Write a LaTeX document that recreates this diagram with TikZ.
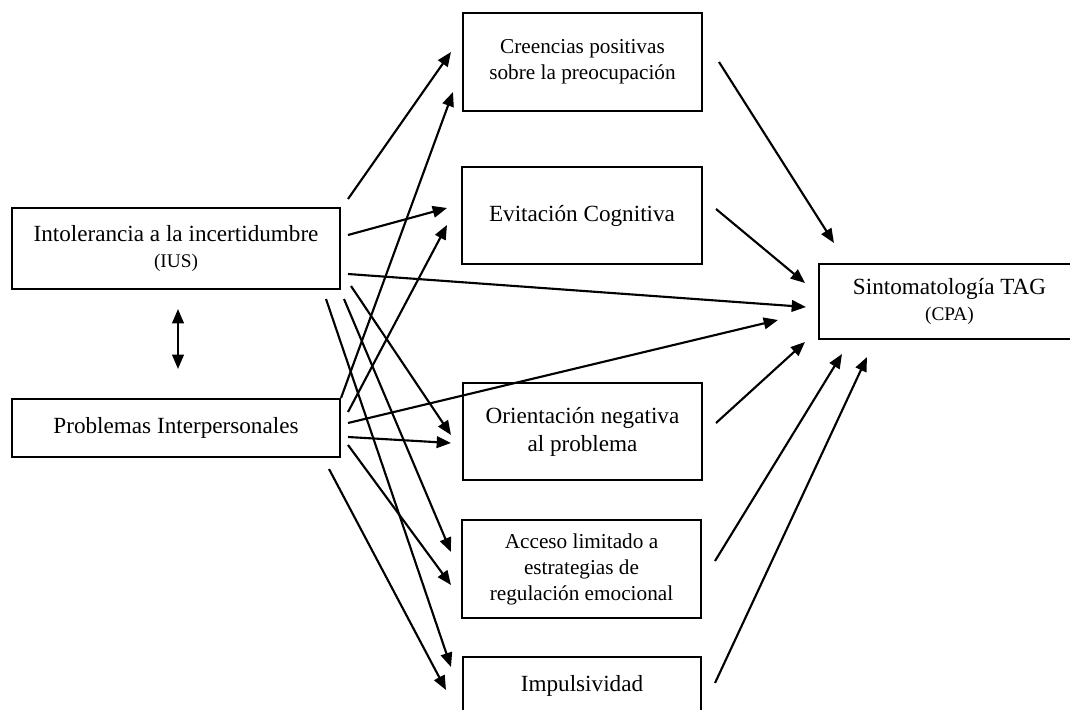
\documentclass[tikz,border=0pt]{standalone}
\usepackage{fontspec}
\setmainfont{Liberation Serif}
\usetikzlibrary{arrows.meta,calc}

\begin{document}
\begin{tikzpicture}[x=0.518pt,y=-0.518pt,
  box/.style={draw,line width=1.05pt,rectangle,align=center,inner sep=0pt,
    font=\fontsize{12}{14.5}\selectfont},
  smallbox/.style={box,font=\fontsize{11}{13.5}\selectfont},
  tip/.style={Triangle[length=7.4pt,width=6pt]},
  arr/.style={line width=1.1pt,-{Triangle[length=7.4pt,width=6pt]}},
  biarr/.style={line width=1.1pt,{Triangle[length=7.4pt,width=6pt]}-{Triangle[length=7.4pt,width=6pt]}}]

\useasboundingbox (0,0) rectangle (1070,710);
\clip (0,0) rectangle (1070,710);

% predictors
\node[box,minimum width=328*0.518pt,minimum height=81*0.518pt] (ius) at (176,248.5)
  {Intolerancia a la incertidumbre\\[-1pt]{\fontsize{10}{12}\selectfont (IUS)}};
\node[box,minimum width=328*0.518pt,minimum height=58*0.518pt] (pi) at (176,428)
  {Problemas Interpersonales};

% mediators
\node[smallbox,minimum width=239*0.518pt,minimum height=98*0.518pt] (cre) at (582.5,62)
  {Creencias positivas\\sobre la preocupación};
\node[box,minimum width=240*0.518pt,minimum height=97*0.518pt] (evi) at (582,215.5)
  {Evitación Cognitiva};
\node[box,minimum width=239*0.518pt,minimum height=97*0.518pt] (ori) at (582.5,431.5)
  {Orientación negativa\\al problema};
\node[smallbox,minimum width=239*0.518pt,minimum height=98*0.518pt] (acc) at (581.5,569)
  {Acceso limitado a\\estrategias de\\regulación emocional};
\node[box,minimum width=238*0.518pt,minimum height=58*0.518pt] (imp) at (582,686)
  {Impulsividad};

% outcome
\node[box,minimum width=261*0.518pt,minimum height=75*0.518pt] (tag) at (949.5,301.5)
  {Sintomatología TAG\\[-1pt]{\fontsize{10}{12}\selectfont (CPA)}};

% correlation between predictors
\draw[biarr] ($(ius.south)+(2,19)$) -- ($(pi.north)+(2,-29)$);

% paths from IUS
\draw[arr] ($(ius.north east)+(7,-8)$) -- ($(cre.west)+(-11,-10)$);
\draw[arr] ($(ius.east)+(7,-13.5)$) -- ($(evi.west)+(-14,-7.5)$);
\draw[arr] ($(ius.east)+(7,25.5)$) -- ($(tag.west)+(-12,5.5)$);
\draw[arr] ($(ius.south east)+(10,-4)$) -- ($(ori.west)+(-11,3.5)$);
\draw[arr] ($(ius.south east)+(3,9)$) -- ($(acc.west)+(-10,-17)$);
\draw[arr] ($(ius.south east)+(-15,9)$) -- ($(imp.west)+(-11,-19)$);

% paths from interpersonal problems
\draw[arr] (pi.north east) -- ($(cre.west)+(-9,30)$);
\draw[arr] ($(pi.east)+(7,-16)$) -- ($(evi.west)+(-14,9.5)$);
\draw[arr] ($(pi.east)+(7,-5)$) -- ($(tag.west)+(-40,18.5)$);
\draw[arr] ($(pi.east)+(7,9)$) -- ($(ori.west)+(-11,11.5)$);
\draw[arr] ($(pi.east)+(7,17)$) -- ($(acc.west)+(-10,16)$);
\draw[arr] ($(pi.south east)+(-12,11)$) -- ($(imp.west)+(-16,4)$);

% paths from mediators to GAD symptoms
\draw[arr] ($(cre.east)+(16,0)$) -- ($(tag.north west)+(16,-20)$);
\draw[arr] ($(evi.east)+(13,-6.5)$) -- ($(tag.west)+(-13,-18.5)$);
\draw[arr] ($(ori.east)+(13,-8.5)$) -- ($(tag.south west)+(-13,2)$);
\draw[arr] ($(acc.east)+(13,-8)$) -- ($(tag.south west)+(24,14)$);
\draw[arr] ($(imp.east)+(13,-3)$) -- ($(tag.south west)+(49,17)$);

\end{tikzpicture}
\end{document}
